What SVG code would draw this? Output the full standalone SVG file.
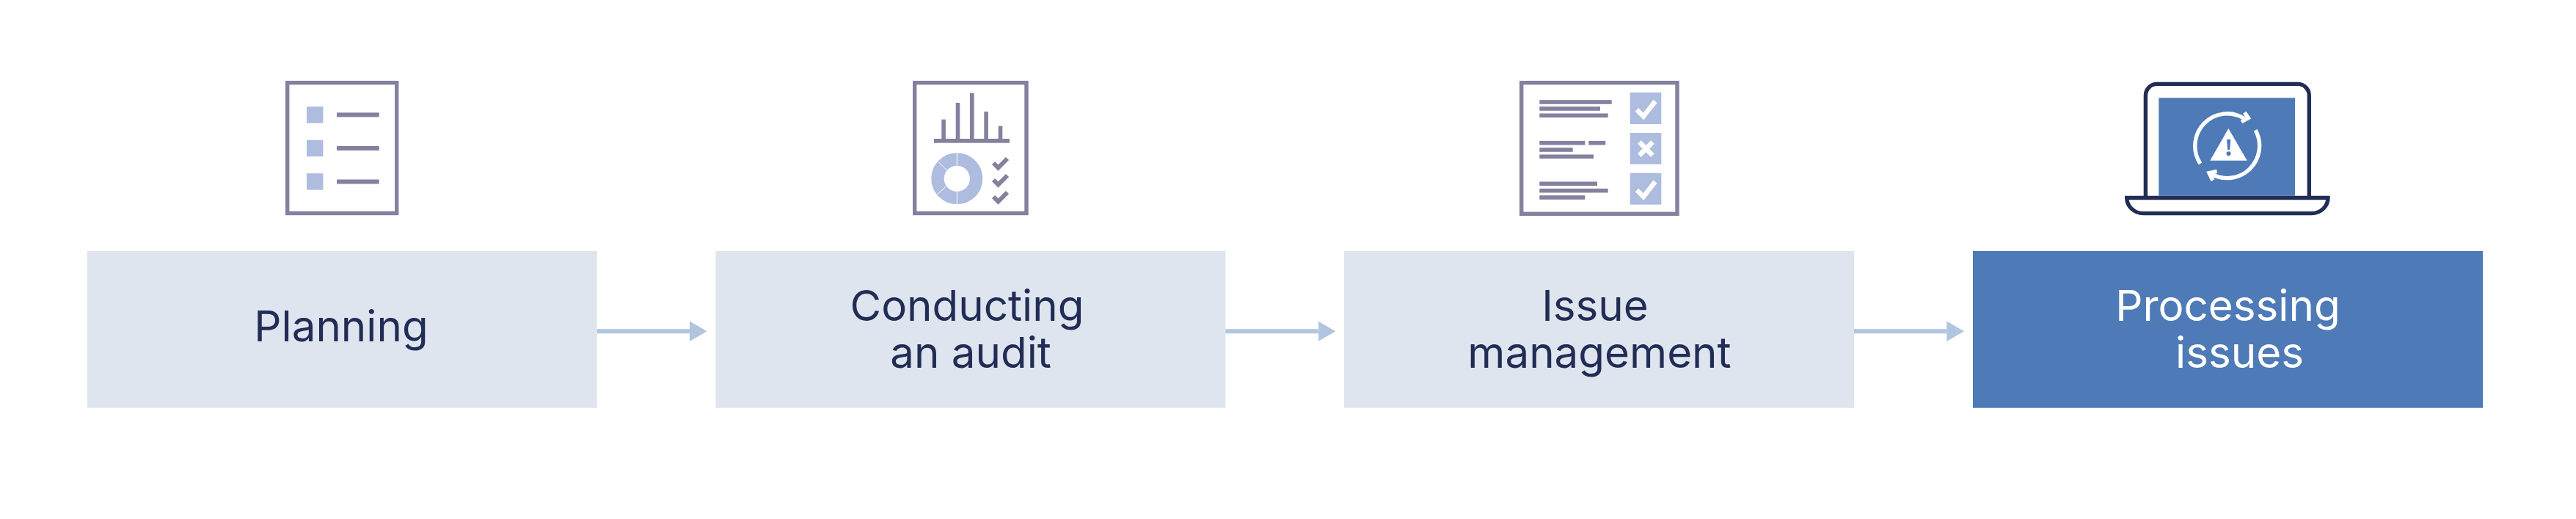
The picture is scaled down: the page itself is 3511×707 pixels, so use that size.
<svg xmlns="http://www.w3.org/2000/svg" width="3511" height="707" viewBox="0 0 3511 707">
<style>
.box{fill:#dfe5ef}
.boxa{fill:#4e7ab7}
.lbl{font-family:"Inter","Noto Sans","Liberation Sans",sans-serif;font-size:58.3px;font-weight:430;fill:#222d55;text-anchor:middle}
.lbla{fill:#ffffff}
.frame{fill:#ffffff;stroke:#84819f;stroke-width:5.4}
.ink{fill:#84819f}
.soft{fill:#adbcdf}
.chk{fill:none;stroke:#84819f;stroke-width:6}
.wchk{fill:none;stroke:#ffffff;stroke-width:6.5}
.conn{stroke:#b0c5e0;stroke-width:6;fill:none;marker-end:url(#arrow)}
.lap{fill:#ffffff;stroke:#222d55;stroke-width:5.4}
.arc{fill:none;stroke:#ffffff;stroke-width:5.4}
</style>
<defs>
<marker id="arrow" markerUnits="userSpaceOnUse" markerWidth="24" markerHeight="28" refX="0" refY="14" orient="auto"><path d="M0,0.3L23.7,14L0,27.7Z" fill="#b0c5e0"/></marker>
</defs>
<rect width="3511" height="707" fill="#ffffff"/>
<g id="connectors">
<path class="conn" d="M813.7,451.3H940"/>
<path class="conn" d="M1670.3,451.3H1796.6"/>
<path class="conn" d="M2527,451.3H2653.3"/>
</g>
<g id="node-planning">
<rect class="box" x="118.7" y="342" width="695" height="213.7"/>
<text class="lbl" x="465" y="465">Planning</text>
<rect class="frame" x="391.7" y="112.7" width="149" height="177.8"/>
<rect class="soft" x="418" y="145.3" width="22.4" height="22.4"/>
<rect class="soft" x="418" y="190.8" width="22.4" height="22.4"/>
<rect class="soft" x="418" y="236.2" width="22.4" height="22.4"/>
<rect class="ink" x="459" y="153.4" width="57.7" height="6"/>
<rect class="ink" x="459" y="199" width="57.7" height="6"/>
<rect class="ink" x="459" y="244.5" width="57.7" height="6"/>
</g>
<g id="node-audit">
<rect class="box" x="975.3" y="342" width="695" height="213.7"/>
<text class="lbl" x="1318" y="436.7">Conducting</text>
<text class="lbl" x="1323" y="501">an audit</text>
<rect class="frame" x="1246.7" y="112.7" width="152.3" height="177.8"/>
<rect class="ink" x="1283.3" y="162.7" width="5.6" height="30"/>
<rect class="ink" x="1302.7" y="140" width="5.6" height="52"/>
<rect class="ink" x="1322" y="126.7" width="5.6" height="65"/>
<rect class="ink" x="1341.3" y="152" width="5.6" height="40"/>
<rect class="ink" x="1360.7" y="171.7" width="5.6" height="20"/>
<rect class="ink" x="1273" y="189" width="103" height="5.7"/>
<circle cx="1304.3" cy="243.3" r="26.3" fill="none" stroke="#adbcdf" stroke-width="17.4"/>
<path d="M1304.3,207V226M1304.3,261V280M1279.3,220.7L1291.7,233.3M1277.3,265L1289.3,254" stroke="#ffffff" stroke-width="1" fill="none"/>
<polyline class="chk" points="1354,222 1360.5,228.5 1373,216"/>
<polyline class="chk" points="1354,245 1360.5,251.5 1373,239"/>
<polyline class="chk" points="1354,268 1360.5,274.5 1373,262"/>
</g>
<g id="node-issue">
<rect class="box" x="1832" y="342" width="695" height="213.7"/>
<text class="lbl" x="2174" y="436.7">Issue</text>
<text class="lbl" x="2180" y="501">management</text>
<rect class="frame" x="2073.7" y="112.7" width="212.3" height="178.6"/>
<rect class="ink" x="2098.3" y="136.2" width="98.4" height="5.6"/>
<rect class="ink" x="2098.3" y="145.2" width="82.7" height="5.6"/>
<rect class="ink" x="2098.3" y="154.5" width="93.4" height="5.6"/>
<rect class="ink" x="2098.3" y="191.9" width="62" height="5.6"/>
<rect class="ink" x="2165.3" y="191.9" width="23" height="5.6"/>
<rect class="ink" x="2098.3" y="201.2" width="45.4" height="5.6"/>
<rect class="ink" x="2098.3" y="210.5" width="73.7" height="5.6"/>
<rect class="ink" x="2098.3" y="247.5" width="78.7" height="5.6"/>
<rect class="ink" x="2098.3" y="256.9" width="93.4" height="5.6"/>
<rect class="ink" x="2098.3" y="266.2" width="62" height="5.6"/>
<rect class="soft" x="2221.7" y="126" width="42.6" height="43"/>
<rect class="soft" x="2221.7" y="181" width="42.6" height="42.7"/>
<rect class="soft" x="2221.7" y="235.7" width="42.6" height="43"/>
<polyline class="wchk" points="2231,149.5 2240,158.5 2256,138"/>
<path class="wchk" d="M2234.4,193.6L2252.4,211.6M2252.4,193.6L2234.4,211.6"/>
<polyline class="wchk" points="2231,259 2240,268 2256,247.5"/>
</g>
<g id="node-processing">
<rect class="boxa" x="2689" y="342" width="695" height="213.7"/>
<text class="lbl lbla" x="3036.5" y="436.7">Processing</text>
<text class="lbl lbla" x="3052.5" y="501">issues</text>
<path class="lap" d="M2924.4,269.5V130a15.6,15.6 0 0 1 15.6,-15.6H3131.7a15.6,15.6 0 0 1 15.6,15.6V269.5"/>
<rect class="boxa" x="2942.3" y="133.3" width="185.7" height="133.4"/>
<path class="lap" d="M2898.7,269.5H3173C3173,281 3163,290.6 3151,290.6H2921C2909,290.6 2898.7,281 2898.7,269.5Z"/>
<path class="arc" d="M2999,223A44,44 0 0 1 3059.4,161.7"/>
<path class="arc" d="M3074.1,177.3A44,44 0 0 1 3013.4,236.6"/>
<polyline class="arc" points="3059.3,153.3 3064.3,160.7 3055,166"/>
<polyline class="arc" points="3021.7,233.3 3011,235.7 3016,245.7"/>
<path d="M3037.3,175L3062.7,218.7H3012.3Z" fill="#ffffff"/>
<path d="M3035,190H3040.3L3039.2,204H3036.1Z" fill="#4e7ab7"/>
<circle cx="3037.5" cy="209.3" r="3" fill="#4e7ab7"/>
</g>
</svg>
